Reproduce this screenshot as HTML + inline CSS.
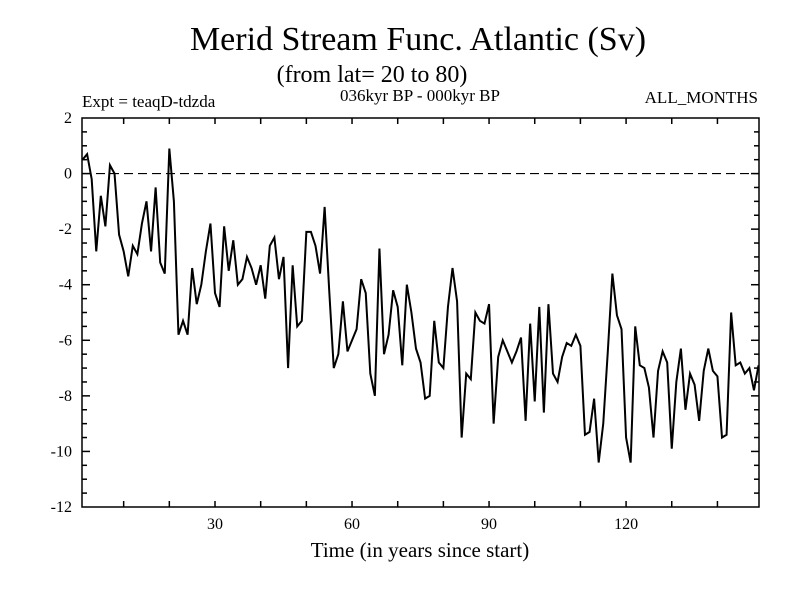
<!DOCTYPE html>
<html><head><meta charset="utf-8"><style>
body{margin:0;background:#fff;}
svg text{font-family:"Liberation Serif",serif;fill:#000;}
</style></head><body>
<svg id="chart" width="800" height="600" viewBox="0 0 800 600">
<rect width="800" height="600" fill="#fff"/>
<text x="418" y="50" font-size="34" text-anchor="middle">Merid Stream Func. Atlantic (Sv)</text>
<text x="372" y="82" font-size="24" text-anchor="middle">(from lat= 20 to 80)</text>
<text x="82" y="107" font-size="17">Expt = teaqD-tdzda</text>
<text x="420" y="101" font-size="17" text-anchor="middle">036kyr BP - 000kyr BP</text>
<text x="758" y="103" font-size="17" text-anchor="end">ALL_MONTHS</text>
<text x="420" y="557" font-size="21" text-anchor="middle">Time (in years since start)</text>
<g id="axes"></g>
<g id="plot"></g>
</svg>
<script>
const xTickLabels = [30, 60, 90, 120];
const yTickLabels = [2, 0, -2, -4, -6, -8, -10, -12];
const values = [0.5,0.7,-0.2,-2.8,-0.8,-1.9,0.3,0,-2.2,-2.8,-3.7,-2.6,-2.9,-1.8,-1.0,-2.8,-0.5,-3.2,-3.6,0.9,-1.0,-5.8,-5.3,-5.8,-3.4,-4.7,-4.0,-2.8,-1.8,-4.3,-4.8,-1.9,-3.5,-2.4,-4.0,-3.8,-3.0,-3.4,-4.0,-3.3,-4.5,-2.6,-2.3,-3.8,-3.0,-7.0,-3.3,-5.5,-5.3,-2.1,-2.1,-2.6,-3.6,-1.2,-4.2,-7.0,-6.5,-4.6,-6.4,-6.0,-5.6,-3.8,-4.3,-7.2,-8.0,-2.7,-6.5,-5.8,-4.2,-4.8,-6.9,-4.0,-5.0,-6.3,-6.8,-8.1,-8.0,-5.3,-6.8,-7.0,-4.8,-3.4,-4.6,-9.5,-7.2,-7.4,-5.0,-5.3,-5.4,-4.7,-9.0,-6.6,-6.0,-6.4,-6.8,-6.4,-5.9,-8.9,-5.4,-8.2,-4.8,-8.6,-4.7,-7.2,-7.5,-6.6,-6.1,-6.2,-5.8,-6.2,-9.4,-9.3,-8.1,-10.4,-9.0,-6.4,-3.6,-5.1,-5.6,-9.5,-10.4,-5.5,-6.9,-7.0,-7.7,-9.5,-7.1,-6.4,-6.8,-9.9,-7.5,-6.3,-8.5,-7.2,-7.6,-8.9,-7.1,-6.3,-7.1,-7.3,-9.5,-9.4,-5.0,-6.9,-6.8,-7.2,-7.0,-7.8,-6.9];
const X0=82,X1=759,Y0=118,Y1=507;
const xMin=0.88,xMax=149.1,yMin=-12,yMax=2;
function xs(v){return X0+(v-xMin)/(xMax-xMin)*(X1-X0);}
function ys(v){return Y0+(yMax-v)/(yMax-yMin)*(Y1-Y0);}
const NS="http://www.w3.org/2000/svg";
const axes=document.getElementById('axes'),plot=document.getElementById('plot');
function mk(tag,attrs,parent){const e=document.createElementNS(NS,tag);for(const k in attrs)e.setAttribute(k,attrs[k]);parent.appendChild(e);return e;}
const frame=mk('rect',{x:X0,y:Y0,width:X1-X0,height:Y1-Y0,fill:'none',stroke:'#000','stroke-width':1.5},axes);


for(let v=10;v<xMax;v+=10){
  const x=xs(v);
  const t=mk('line',{x1:x,x2:x,y1:Y1,y2:Y1-6,stroke:'#000','stroke-width':1.5},axes);
  
  
  const t2=mk('line',{x1:x,x2:x,y1:Y0,y2:Y0+6,stroke:'#000','stroke-width':1.5},axes);
  
  
}
xTickLabels.forEach(v=>{
  const t=mk('text',{x:xs(v),y:Y1+22,'font-size':16,'text-anchor':'middle'},axes);
  t.textContent=v;
  
  
});
for(let v=yMin+0.5;v<yMax;v+=0.5){
  const y=ys(v),len=(Math.abs(v%2)<1e-6)?8:5;
  const a=mk('line',{x1:X0,x2:X0+len,y1:y,y2:y,stroke:'#000','stroke-width':1.5},axes);
  
  
  const b=mk('line',{x1:X1,x2:X1-len,y1:y,y2:y,stroke:'#000','stroke-width':1.5},axes);
  
  
}
yTickLabels.forEach(v=>{
  const t=mk('text',{x:X0-10,y:ys(v)+5,'font-size':16,'text-anchor':'end'},axes);
  t.textContent=v;
  
  
});
const zl=mk('line',{x1:X0,x2:X1,y1:ys(0),y2:ys(0),stroke:'#000','stroke-width':1.2,'stroke-dasharray':'9,5'},plot);


const pts=values.map((v,i)=>xs(i+1)+','+ys(v)).join(' ');
const pl=mk('polyline',{points:pts,fill:'none',stroke:'#000','stroke-width':2,'stroke-linejoin':'miter'},plot);


</script>
</body></html>
